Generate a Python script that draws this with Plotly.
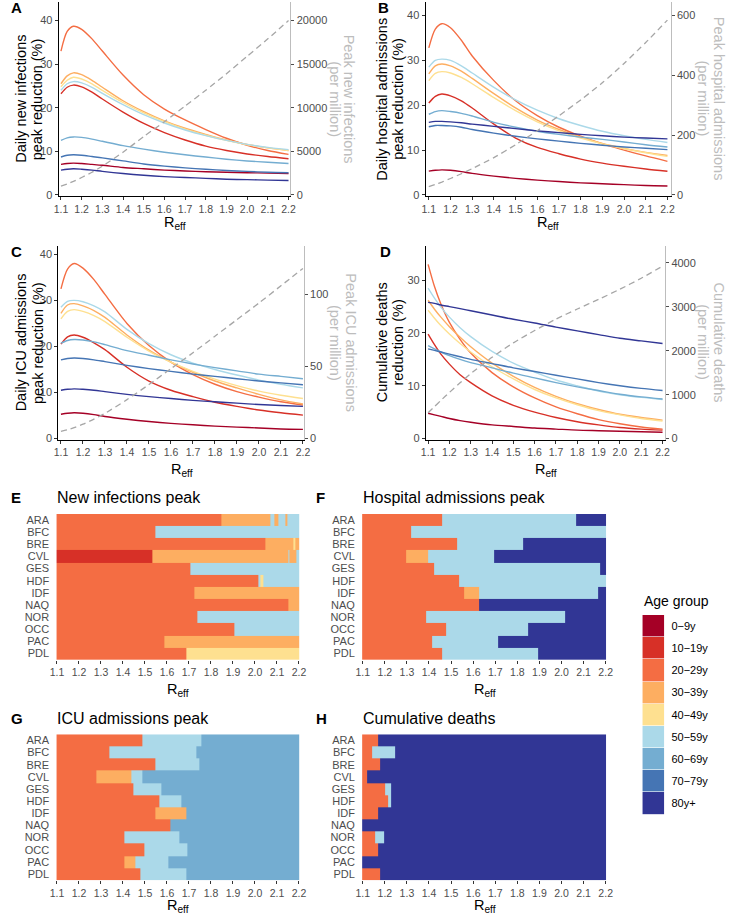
import plotly.graph_objects as go

W, H = 733, 920

# ---------------- data ----------------
AGE_GROUPS = ["0\u22129y", "10\u221219y", "20\u221229y", "30\u221239y", "40\u221249y",
              "50\u221259y", "60\u221269y", "70\u221279y", "80y+"]
AGE_COLORS = ["#a50026", "#d73027", "#f46d43", "#fdae61", "#fee090",
              "#abd9e9", "#74add1", "#4575b4", "#313695"]

REFF = [1.10, 1.13, 1.16, 1.20, 1.25, 1.30, 1.40, 1.50, 1.60, 1.70, 1.80, 1.90, 2.00, 2.10, 2.20]
X_TICKS = [1.1, 1.2, 1.3, 1.4, 1.5, 1.6, 1.7, 1.8, 1.9, 2.0, 2.1, 2.2]
X_TICK_LABELS = ["1.1", "1.2", "1.3", "1.4", "1.5", "1.6", "1.7", "1.8", "1.9", "2.0", "2.1", "2.2"]
REGIONS = ["ARA", "BFC", "BRE", "CVL", "GES", "HDF", "IDF", "NAQ", "NOR", "OCC", "PAC", "PDL"]

# A: daily new infections peak reduction (%) per age group
INF_RED = [
    [7.0, 7.2, 7.3, 7.2, 7.0, 6.8, 6.3, 6.0, 5.7, 5.5, 5.3, 5.2, 5.1, 5.0, 4.9],
    [23.2, 24.7, 25.2, 24.8, 23.6, 22.0, 19.0, 16.4, 14.3, 12.6, 11.2, 10.2, 9.4, 8.8, 8.3],
    [33.0, 37.5, 38.7, 38.0, 35.8, 33.0, 27.5, 23.0, 19.7, 17.2, 15.0, 13.0, 11.4, 10.2, 9.3],
    [25.5, 27.3, 28.0, 27.6, 26.3, 24.7, 21.6, 19.1, 17.0, 15.3, 13.9, 12.6, 11.6, 10.8, 10.2],
    [24.8, 26.3, 27.0, 26.6, 25.5, 24.0, 21.2, 18.8, 16.8, 15.1, 13.7, 12.5, 11.5, 10.8, 10.2],
    [24.0, 25.5, 26.0, 25.7, 24.7, 23.3, 20.7, 18.4, 16.5, 14.9, 13.6, 12.5, 11.6, 10.9, 10.4],
    [12.5, 13.1, 13.3, 13.2, 12.8, 12.3, 11.3, 10.5, 9.8, 9.2, 8.7, 8.2, 7.8, 7.5, 7.2],
    [8.7, 9.1, 9.2, 9.1, 8.8, 8.5, 7.8, 7.1, 6.6, 6.2, 5.9, 5.6, 5.4, 5.2, 5.1],
    [5.7, 5.9, 6.0, 5.9, 5.7, 5.4, 4.9, 4.5, 4.2, 4.0, 3.8, 3.6, 3.5, 3.4, 3.3],
]
INF_PEAK = [1000, 1250, 1550, 2000, 2600, 3300, 4900, 6700, 8400, 10200, 12000, 13900, 15900, 17900, 20000]

# B: daily hospital admissions peak reduction (%)
HOSP_RED = [
    [5.3, 5.5, 5.6, 5.5, 5.2, 4.8, 4.2, 3.7, 3.3, 3.0, 2.7, 2.5, 2.3, 2.1, 2.0],
    [20.5, 22.0, 22.5, 22.1, 21.0, 19.4, 15.8, 12.7, 10.6, 9.2, 8.0, 7.1, 6.4, 5.8, 5.3],
    [32.8, 37.0, 38.2, 37.3, 34.5, 31.0, 25.5, 21.0, 17.7, 15.1, 13.1, 11.4, 10.0, 8.7, 7.5],
    [27.0, 28.8, 29.2, 28.8, 27.6, 26.0, 22.6, 19.4, 16.7, 14.6, 12.9, 11.5, 10.4, 9.5, 8.8],
    [25.5, 27.1, 27.5, 27.2, 26.2, 24.8, 21.7, 18.8, 16.3, 14.3, 12.7, 11.4, 10.3, 9.4, 8.6],
    [28.5, 30.0, 30.3, 30.0, 28.8, 27.2, 24.0, 21.2, 18.9, 17.0, 15.5, 14.2, 13.2, 12.4, 11.7],
    [18.0, 18.6, 18.8, 18.6, 18.2, 17.6, 16.2, 15.1, 14.2, 13.5, 12.9, 12.4, 11.8, 11.2, 10.7],
    [15.2, 15.5, 15.5, 15.4, 15.1, 14.6, 13.8, 13.1, 12.5, 12.0, 11.5, 11.1, 10.7, 10.4, 10.1],
    [16.2, 16.4, 16.4, 16.3, 16.1, 15.8, 15.3, 14.8, 14.3, 13.9, 13.5, 13.2, 12.9, 12.7, 12.5],
]
HOSP_PEAK = [28, 35, 43, 55, 71, 88, 125, 168, 215, 265, 318, 375, 440, 510, 585]

# C: daily ICU admissions peak reduction (%)
ICU_RED = [
    [5.3, 5.5, 5.6, 5.5, 5.2, 4.8, 4.2, 3.7, 3.3, 3.0, 2.7, 2.5, 2.3, 2.1, 2.0],
    [20.5, 22.1, 22.5, 22.0, 20.8, 19.3, 15.5, 12.5, 10.5, 9.1, 7.9, 7.0, 6.2, 5.6, 5.1],
    [32.5, 36.8, 38.0, 37.0, 34.5, 31.3, 25.0, 20.2, 16.6, 13.9, 11.8, 10.2, 9.0, 8.0, 7.3],
    [27.2, 29.0, 29.3, 28.8, 27.8, 26.3, 22.5, 19.2, 16.6, 14.4, 12.5, 11.0, 9.6, 8.4, 7.5],
    [26.0, 27.6, 28.0, 27.6, 26.7, 25.4, 22.0, 19.0, 16.6, 14.6, 12.9, 11.5, 10.3, 9.4, 8.7],
    [28.5, 29.8, 30.0, 29.7, 28.8, 27.5, 23.7, 20.6, 18.2, 16.4, 15.0, 13.8, 12.7, 11.8, 11.0],
    [20.7, 21.3, 21.5, 21.4, 21.0, 20.4, 19.1, 18.1, 17.1, 16.2, 15.4, 14.7, 14.0, 13.5, 13.0],
    [17.1, 17.4, 17.5, 17.4, 17.1, 16.7, 15.9, 15.2, 14.6, 14.0, 13.5, 13.0, 12.5, 12.1, 11.7],
    [10.5, 10.7, 10.8, 10.7, 10.5, 10.2, 9.6, 9.1, 8.7, 8.3, 8.0, 7.7, 7.4, 7.2, 7.0],
]
ICU_PEAK = [5, 6.2, 7.6, 10, 13.5, 17.5, 27, 37.5, 48.5, 59.5, 71, 82.5, 94, 106, 118]

# D: cumulative deaths reduction (%)
DEATH_RED = [
    [4.8, 4.5, 4.2, 3.8, 3.4, 3.1, 2.6, 2.3, 2.0, 1.8, 1.6, 1.5, 1.4, 1.3, 1.2],
    [19.8, 17.8, 16.0, 14.1, 12.1, 10.6, 8.1, 6.3, 5.0, 4.0, 3.2, 2.6, 2.1, 1.8, 1.6],
    [33.0, 28.8, 25.5, 22.0, 18.8, 16.2, 12.5, 9.8, 7.7, 6.0, 4.7, 3.6, 2.8, 2.2, 1.8],
    [26.2, 24.5, 23.0, 21.2, 19.2, 17.4, 14.3, 11.8, 9.7, 8.0, 6.6, 5.5, 4.6, 4.0, 3.5],
    [24.3, 22.8, 21.4, 19.8, 18.0, 16.4, 13.6, 11.3, 9.3, 7.7, 6.4, 5.3, 4.5, 3.8, 3.3],
    [28.5, 26.6, 24.9, 23.0, 21.0, 19.3, 16.5, 14.3, 12.6, 11.1, 10.0, 9.0, 8.3, 7.8, 7.4],
    [17.6, 17.0, 16.4, 15.7, 15.0, 14.4, 13.4, 12.4, 11.5, 10.6, 9.8, 9.1, 8.4, 7.9, 7.5],
    [17.0, 16.7, 16.4, 16.0, 15.5, 15.0, 14.2, 13.4, 12.7, 12.0, 11.3, 10.6, 10.0, 9.5, 9.1],
    [25.8, 25.6, 25.3, 25.0, 24.6, 24.2, 23.4, 22.6, 21.9, 21.1, 20.4, 19.7, 19.0, 18.5, 18.0],
]
DEATH_CUM = [590, 730, 870, 1050, 1270, 1480, 1850, 2180, 2460, 2720, 2950, 3170, 3400, 3650, 3925]

# Heatmaps: dominant age group index per region, as (start Reff, group index) segments
LO, HI = 1.097, 2.203
E_SEG = {
    "ARA": [(LO, 2), (1.848, 3), (2.068, 5), (2.087, 3), (2.106, 5), (2.136, 3), (2.148, 5)],
    "BFC": [(LO, 2), (1.546, 5)],
    "BRE": [(LO, 2), (2.047, 3), (2.176, 4), (2.185, 3)],
    "CVL": [(LO, 1), (1.534, 3), (2.150, 5), (2.157, 3), (2.187, 5)],
    "GES": [(LO, 2), (1.705, 5)],
    "HDF": [(LO, 2), (2.017, 5), (2.026, 4), (2.038, 5)],
    "IDF": [(LO, 2), (1.724, 3)],
    "NAQ": [(LO, 2), (2.150, 3)],
    "NOR": [(LO, 2), (1.737, 5)],
    "OCC": [(LO, 2), (1.904, 5)],
    "PAC": [(LO, 2), (1.586, 3)],
    "PDL": [(LO, 2), (1.686, 4)],
}
F_SEG = {
    "ARA": [(LO, 2), (1.457, 5), (2.066, 8)],
    "BFC": [(LO, 2), (1.318, 5)],
    "BRE": [(LO, 2), (1.526, 5), (1.825, 8)],
    "CVL": [(LO, 2), (1.296, 3), (1.396, 5), (1.696, 8)],
    "GES": [(LO, 2), (1.425, 5), (2.176, 8)],
    "HDF": [(LO, 2), (1.537, 5)],
    "IDF": [(LO, 2), (1.558, 3), (1.626, 5), (2.165, 8)],
    "NAQ": [(LO, 2), (1.626, 8)],
    "NOR": [(LO, 2), (1.387, 5), (2.017, 8)],
    "OCC": [(LO, 2), (1.477, 5), (1.847, 8)],
    "PAC": [(LO, 2), (1.416, 5), (1.715, 8)],
    "PDL": [(LO, 2), (1.457, 5), (1.896, 8)],
}
G_SEG = {
    "ARA": [(LO, 2), (1.487, 5), (1.754, 6)],
    "BFC": [(LO, 2), (1.338, 5), (1.735, 6)],
    "BRE": [(LO, 2), (1.546, 5), (1.745, 6)],
    "CVL": [(LO, 2), (1.277, 3), (1.437, 5), (1.487, 6)],
    "GES": [(LO, 2), (1.448, 5), (1.576, 6)],
    "HDF": [(LO, 2), (1.567, 5), (1.665, 6)],
    "IDF": [(LO, 2), (1.546, 3), (1.686, 6)],
    "NAQ": [(LO, 2), (1.616, 6)],
    "NOR": [(LO, 2), (1.405, 5), (1.656, 6)],
    "OCC": [(LO, 2), (1.497, 5), (1.694, 6)],
    "PAC": [(LO, 2), (1.408, 3), (1.457, 5), (1.606, 6)],
    "PDL": [(LO, 2), (1.478, 5), (1.686, 6)],
}
H_SEG = {
    "ARA": [(LO, 2), (1.169, 8)],
    "BFC": [(LO, 2), (1.140, 5), (1.246, 8)],
    "BRE": [(LO, 2), (1.178, 8)],
    "CVL": [(LO, 2), (1.118, 8)],
    "GES": [(LO, 2), (1.199, 5), (1.228, 8)],
    "HDF": [(LO, 2), (1.216, 5), (1.228, 8)],
    "IDF": [(LO, 2), (1.169, 8)],
    "NAQ": [(LO, 8)],
    "NOR": [(LO, 2), (1.157, 5), (1.196, 8)],
    "OCC": [(LO, 2), (1.169, 8)],
    "PAC": [(LO, 8)],
    "PDL": [(LO, 2), (1.178, 8)],
}

# ---------------- helpers ----------------
FONT = "Liberation Sans, Arial, sans-serif"
TICK_COL = "#4d4d4d"


def fx(a, b):
    return [a / W, b / W]


def fy(top, bottom):
    return [1 - bottom / H, 1 - top / H]


def build_z(segs):
    edges = sorted({s for r in REGIONS for s, _ in segs[r]} | {HI})
    z = []
    for r in REGIONS:
        row = []
        for a, b in zip(edges[:-1], edges[1:]):
            m = (a + b) / 2
            row.append([g for s, g in segs[r] if s <= m][-1])
        z.append(row)
    return edges, z


colorscale = []
for i, c in enumerate(AGE_COLORS):
    colorscale += [[i / 9, c], [(i + 1) / 9, c]]

fig = go.Figure()
layout = {}
annotations = []


def ann(text, x, y, size=13, color="black", xanchor="center", yanchor="middle", angle=0, bold=False):
    if bold:
        text = "<b>" + text + "</b>"
    annotations.append(dict(text=text, x=x / W, y=1 - y / H, xref="paper", yref="paper",
                            showarrow=False, xanchor=xanchor, yanchor=yanchor, textangle=angle,
                            font=dict(size=size, color=color, family=FONT)))


def xaxis_common(domain, rng, anchor, line=True):
    return dict(domain=domain, range=rng, anchor=anchor, showgrid=False, zeroline=False,
                showline=line, linecolor="black", linewidth=1,
                ticks="outside", ticklen=3, tickcolor="#333333", tickwidth=1,
                tickmode="array", tickvals=X_TICKS, ticktext=X_TICK_LABELS,
                tickfont=dict(size=10.5, color=TICK_COL, family=FONT))


# line panels
panels = [
    (INF_RED, INF_PEAK, (52.7, 289), (2, 197), [1.089, 2.2095], [-0.23, 44.26],
     [-115, 22130], [0, 10, 20, 30, 40], [0, 5000, 10000, 15000, 20000], 1, 1, 2),
    (HOSP_RED, HOSP_PEAK, (426.7, 676.7), (2, 197), [1.085, 2.2154], [-0.22, 43.04],
     [-3.3, 645.6], [0, 10, 20, 30, 40], [0, 200, 400, 600], 2, 3, 4),
    (ICU_RED, ICU_PEAK, (52.3, 302.7), (247, 442), [1.088, 2.2045], [-0.216, 41.88],
     [-0.69, 133.8], [0, 10, 20, 30, 40], [0, 50, 100], 3, 5, 6),
    (DEATH_RED, DEATH_CUM, (427, 671), (247.3, 442), [1.0894, 2.2124], [-0.19, 36.48],
     [-22.8, 4385], [0, 10, 20, 30], [0, 1000, 2000, 3000, 4000], 4, 7, 8),
]

for data, peak, xd, yd, xr, yl, yr, lt, rt, xi, yi, yi2 in panels:
    xn = "x" if xi == 1 else f"x{xi}"
    yn = "y" if yi == 1 else f"y{yi}"
    yn2 = f"y{yi2}"
    layout["xaxis" if xi == 1 else f"xaxis{xi}"] = xaxis_common(fx(*xd), xr, yn)
    layout["yaxis" if yi == 1 else f"yaxis{yi}"] = dict(
        domain=fy(*yd), range=yl, anchor=xn, showgrid=False, zeroline=False,
        showline=True, linecolor="black", linewidth=1, ticks="outside", ticklen=3,
        tickcolor="#333333", tickmode="array", tickvals=lt, ticktext=[str(v) for v in lt],
        tickfont=dict(size=11, color=TICK_COL, family=FONT))
    layout[f"yaxis{yi2}"] = dict(
        overlaying=yn, side="right", anchor=xn, range=yr, showgrid=False, zeroline=False,
        showline=True, linecolor="#bdbdbd", linewidth=1, ticks="outside", ticklen=3,
        tickcolor="#4d4d4d", tickmode="array", tickvals=rt, ticktext=[str(v) for v in rt],
        tickfont=dict(size=11, color=TICK_COL, family=FONT))
    for vals, col in zip(data, AGE_COLORS):
        fig.add_trace(go.Scatter(x=REFF, y=vals, mode="lines", xaxis=xn, yaxis=yn,
                                 line=dict(color=col, width=1.4, shape="spline", smoothing=0.8),
                                 showlegend=False, hoverinfo="skip"))
    fig.add_trace(go.Scatter(x=REFF, y=peak, mode="lines", xaxis=xn, yaxis=yn2,
                             line=dict(color="#a6a6a6", width=1.3, dash="6px,4px",
                                       shape="spline", smoothing=0.6),
                             showlegend=False, hoverinfo="skip"))

# heatmaps
heat = [
    (E_SEG, (50.3, 298.3), (516.7, 663.3), 5, 9),
    (F_SEG, (362, 611), (516.7, 663.3), 6, 10),
    (G_SEG, (50.3, 298.3), (738.3, 885), 7, 11),
    (H_SEG, (362, 611), (738.3, 885), 8, 12),
]
for segs, xd, yd, xi, yi in heat:
    edges, z = build_z(segs)
    xn, yn = f"x{xi}", f"y{yi}"
    fig.add_trace(go.Heatmap(x=edges, y=REGIONS, z=z, xaxis=xn, yaxis=yn, colorscale=colorscale,
                             zmin=-0.5, zmax=8.5, showscale=False, hoverinfo="skip"))
    layout[f"xaxis{xi}"] = xaxis_common(fx(*xd), [LO, HI], yn, line=False)
    layout[f"yaxis{yi}"] = dict(domain=fy(*yd), anchor=xn, autorange="reversed", showgrid=False,
                                zeroline=False, showline=False, ticks="outside", ticklen=4,
                                tickcolor="rgba(0,0,0,0)", tickmode="array",
                                tickvals=REGIONS, ticktext=REGIONS,
                                tickfont=dict(size=11, color=TICK_COL, family=FONT))

# legend drawn as a small heatmap
fig.add_trace(go.Heatmap(x=[0], y=AGE_GROUPS, z=[[i] for i in range(9)], xaxis="x9", yaxis="y13",
                         colorscale=colorscale, zmin=-0.5, zmax=8.5, showscale=False,
                         hoverinfo="skip", ygap=0.6))
layout["xaxis9"] = dict(domain=fx(647.7, 670), anchor="y13", visible=False)
layout["yaxis13"] = dict(domain=fy(618.3, 819), anchor="x9", side="right", autorange="reversed",
                         showgrid=False, zeroline=False, showline=False, ticks="outside",
                         ticklen=4, tickcolor="rgba(0,0,0,0)", tickmode="array",
                         tickvals=AGE_GROUPS, ticktext=AGE_GROUPS,
                         tickfont=dict(size=11, color="black", family=FONT))

# ---------------- text ----------------
GREY_T = "#bdbdbd"
TS = 14.5
# left axis titles (one annotation per line)
for txt, x, y in [("Daily new infections", 14, 99.5), ("peak reduction (%)", 31, 99.5),
                  ("Daily hospital admissions", 382, 99.5), ("peak reduction (%)", 398.5, 99.5),
                  ("Daily ICU admissions", 14, 344.5), ("peak reduction (%)", 31, 344.5),
                  ("Cumulative deaths", 382, 344.5), ("reduction (%)", 398.5, 344.5)]:
    ann(txt, x, y, size=TS, angle=-90)
# right axis titles
for txt, x, y in [("Peak new infections", 349, 99.5), ("(per million)", 334, 99.5),
                  ("Peak hospital admissions", 726, 99.5), ("(per million)", 710, 99.5),
                  ("Peak ICU admissions", 351, 344.5), ("(per million)", 335, 344.5),
                  ("Cumulative deaths", 726, 344.5), ("(per million)", 710, 344.5)]:
    ann(txt, x, y, size=TS, angle=90, color=GREY_T)

RE = "R<sub>eff</sub>"
for x, y in [(171, 224), (552, 224), (178, 473), (549, 473),
             (174, 694), (487, 694), (174, 911), (487, 911)]:
    ann(RE, x, y, size=14.5)

for letter, x, y in [("A", 2, 8), ("B", 376, 8), ("C", 2, 253), ("D", 378, 253),
                     ("E", 2, 500), ("F", 313, 500), ("G", 2, 722), ("H", 313, 722)]:
    ann(letter, x, y, size=15, xanchor="left", bold=True)

ann("New infections peak", 49, 500, size=16, xanchor="left")
ann("Hospital admissions peak", 361, 500, size=16, xanchor="left")
ann("ICU admissions peak", 49, 722, size=16, xanchor="left")
ann("Cumulative deaths", 361, 722, size=16, xanchor="left")
ann("Age group", 647, 604, size=14, xanchor="left")

fig.update_layout(width=W, height=H, margin=dict(l=0, r=0, t=0, b=0),
                  paper_bgcolor="white", plot_bgcolor="white", showlegend=False,
                  font=dict(family=FONT), annotations=annotations, **layout)

fig.write_html("out.html", config={"displayModeBar": False},
               post_script="document.body.style.margin='0px';")
